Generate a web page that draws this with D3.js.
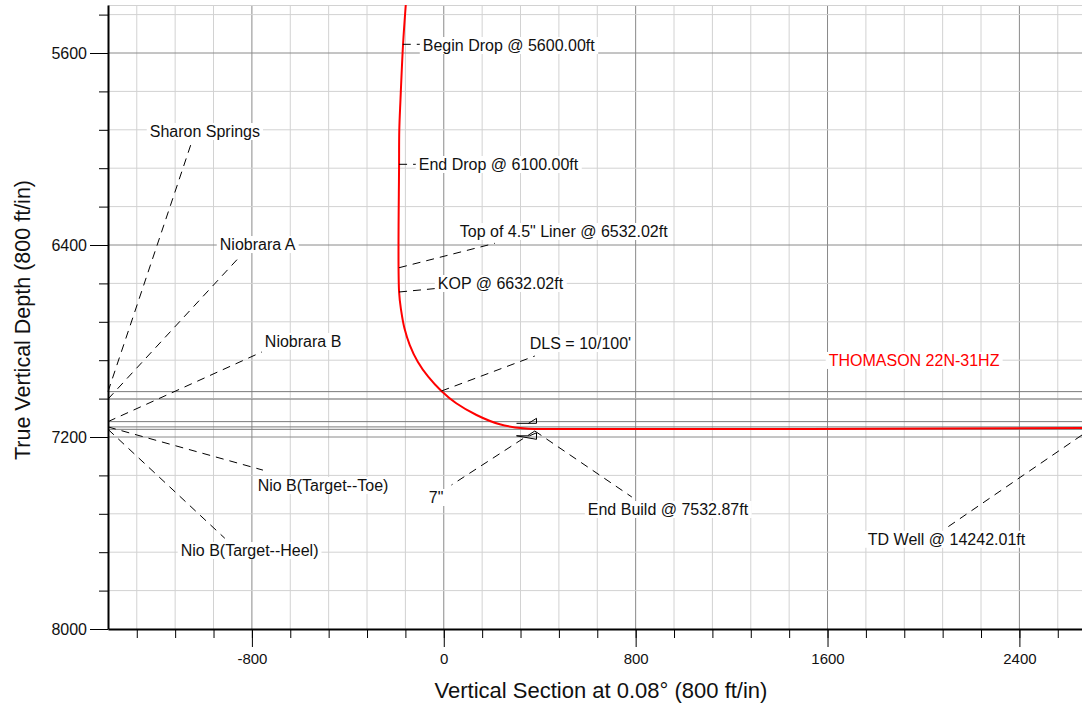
<html>
<head>
<meta charset="utf-8">
<script src="https://d3js.org/d3.v7.min.js"></script>

<style>
    body { margin: 0; background: #fff; }
    svg { font-family: "Liberation Sans", Arial, sans-serif; }

    .grid-minor { stroke: #d2d2d2; stroke-width: 1px; }
    .grid-major { stroke: #8a8a8a; stroke-width: 1px; }
    .formation { stroke: #7a7a7a; stroke-width: 1px; }

    .well {
        fill: none;
        stroke: #ff0000;
        stroke-width: 2px;
    }

    .leader {
        fill: none;
        stroke: black;
        stroke-width: 1px;
        stroke-dasharray: 8,6;
    }

    .label text { font-size: 16px; fill: #111; }
    .label rect { fill: white; }

    .axis path, .axis line { stroke: black; }
    .axis path { stroke-width: 2px; }
    .axis text { fill: #111; }

    .casing { fill: none; stroke: black; stroke-width: 1px; }
</style>
</head>
<body>
<svg width=1082 height=707></svg>

<script>

    // axis ticks (ft)
    let xLabels = [-800, 0, 800, 1600, 2400];
    let yLabels = [5600, 6400, 7200, 8000];
    let gridStep = 160;

    let wellVS  = [-158.5, -169.7, -180.6, -185.5, -186.4, -186.4, -177, -164, -141.8, -108.5, -65, -10,
                   52, 136.4, 233.5, 330.7, 400.3, 2661];
    let wellTVD = [5400, 5562.5, 5795.8, 5920.8, 6062.5, 6594.6, 6677.9, 6747.1, 6816.7, 6886.3, 6948.8, 7008.3,
                   7059.6, 7108.3, 7147.1, 7163.8, 7166.7, 7162.5];
    let wellName = 'THOMASON 22N-31HZ';
    let wellNamePos = [1605, 6904];

    // formation tops
    let formNames = ['Sharon Springs', 'Niobrara A', 'Niobrara B', 'Nio B(Target--Toe)', 'Nio B(Target--Heel)'];
    let formTVD = [7011, 7042, 7136, 7158, 7168];
    let formLeadVS  = [-1052, -851, -759, -754, -913];
    let formLeadTVD = [5974, 6449, 6846, 7338, 7622];
    let formTextVS  = [-1226, -934, -746, -776, -1097];
    let formTextTVD = [5950, 6421, 6825, 7425, 7696];

    // well annotations
    let annoText = ['Begin Drop @ 5600.00ft', 'End Drop @ 6100.00ft', 'Top of 4.5" Liner @ 6532.02ft',
                    'KOP @ 6632.02ft', "DLS = 10/100'", '7"', 'End Build @ 7532.87ft', 'TD Well @ 14242.01ft'];
    let annoFromVS  = [-171, -186.4, -186.4, -186.4, -9.6, 379.5, 379.5, 2661];
    let annoFromTVD = [5563.75, 6063.75, 6494.6, 6595.8, 7008.3, 7175, 7175, 7191.7];
    let annoToVS    = [-91.7, -104.3, 212.7, -23.8, 379.5, 32.1, 784, 2103];
    let annoToTVD   = [5563.75, 6063.75, 6392.9, 6580.4, 6862.5, 7400, 7450, 7573.75];
    let annoTextVS  = [-87.6, -104.3, 66.7, -25, 358.6, -62.6, 600.5, 1768];
    let annoTextTVD = [5591.7, 6087.5, 6366.7, 6583.3, 6833.3, 7475, 7525, 7649];

    // 7" casing shoe
    let casingVS = 386.6, casingTVD = 7168;

    let svg = d3.select('svg');

    let x = d3.scaleLinear().domain([-1400, 2661]).range([108, 1082]);
    let y = d3.scaleLinear().domain([5400, 8000]).range([5, 629]);

    let xGrid = d3.range(-1280, 2661, gridStep);
    let yGrid = d3.range(5440, 8000, gridStep);

    let grid = svg.append('g');

    grid.selectAll('.vx')
        .data(xGrid)
        .enter()
        .append('line')
        .attr('class', d => d % 800 === 0 ? 'grid-major' : 'grid-minor')
        .attr('x1', d => x(d)).attr('x2', d => x(d))
        .attr('y1', y(5400)).attr('y2', y(8000));

    grid.selectAll('.hy')
        .data(yGrid)
        .enter()
        .append('line')
        .attr('class', d => d % 800 === 0 ? 'grid-major' : 'grid-minor')
        .attr('x1', x(-1400)).attr('x2', x(2661))
        .attr('y1', d => y(d)).attr('y2', d => y(d));

    grid.append('line')
        .attr('class', 'grid-minor')
        .attr('x1', x(-1400)).attr('x2', x(2661))
        .attr('y1', y(5400) + 0.5).attr('y2', y(5400) + 0.5);

    // formation lines
    svg.selectAll('.formation')
        .data(formTVD)
        .enter()
        .append('line')
        .attr('class', 'formation')
        .attr('x1', x(-1400)).attr('x2', x(2661))
        .attr('y1', d => y(d)).attr('y2', d => y(d));

    // well path
    let wellData = wellVS.map((v, i) => [v, wellTVD[i]]);
    let wellLine = d3.line()
        .curve(d3.curveCatmullRom.alpha(0.5))
        .x(d => x(d[0]))
        .y(d => y(d[1]));

    svg.append('path')
        .attr('class', 'well')
        .attr('d', wellLine(wellData));

    // leaders
    let leaders = [];
    formNames.forEach((n, i) => leaders.push([x(-1400), y(formTVD[i]), x(formLeadVS[i]), y(formLeadTVD[i])]));
    annoText.forEach((n, i) => leaders.push([x(annoFromVS[i]), y(annoFromTVD[i]), x(annoToVS[i]), y(annoToTVD[i])]));

    svg.selectAll('.leader')
        .data(leaders)
        .enter()
        .append('line')
        .attr('class', 'leader')
        .attr('x1', d => d[0]).attr('y1', d => d[1])
        .attr('x2', d => d[2]).attr('y2', d => d[3]);

    // casing shoe symbol
    let cx = x(casingVS), cy = y(casingTVD);
    svg.append('path')
        .attr('class', 'casing')
        .attr('d', 'M' + (cx - 20) + ',' + (cy - 6) + 'H' + cx + 'V' + (cy - 11) + 'L' + (cx - 8) + ',' + (cy - 6)
            + 'M' + (cx - 20) + ',' + (cy + 6.5) + 'H' + (cx - 7) + 'L' + cx + ',' + (cy + 3.5) + 'V' + (cy + 10) + 'Z');

    // labels with white background
    let labels = [];
    formNames.forEach((n, i) => labels.push({t: n, vs: formTextVS[i], tvd: formTextTVD[i], c: '#111'}));
    annoText.forEach((n, i) => labels.push({t: n, vs: annoTextVS[i], tvd: annoTextTVD[i], c: '#111'}));
    labels.push({t: wellName, vs: wellNamePos[0], tvd: wellNamePos[1], c: '#ff0000'});

    let lab = svg.selectAll('.label')
        .data(labels)
        .enter()
        .append('g')
        .classed('label', true);

    lab.append('rect');
    lab.append('text')
        .attr('x', d => x(d.vs))
        .attr('y', d => y(d.tvd))
        .style('fill', d => d.c)
        .text(d => d.t);

    lab.each(function() {
        let g = d3.select(this);
        let b = g.select('text').node().getBBox();
        g.select('rect')
            .attr('x', b.x - 3).attr('y', b.y)
            .attr('width', b.width + 6).attr('height', b.height);
    });

    // axes
    let plain = d => String(d);

    let xAxisMinor = svg.append('g').attr('class', 'axis')
        .attr('transform', 'translate(0,' + y(8000) + ')')
        .call(d3.axisBottom(x).tickValues(xGrid).tickSize(9).tickSizeOuter(0).tickFormat(''));
    xAxisMinor.selectAll('path').remove();

    let xAxis = svg.append('g').attr('class', 'axis')
        .attr('transform', 'translate(0,' + y(8000) + ')')
        .call(d3.axisBottom(x).tickValues(xLabels).tickSize(18).tickSizeOuter(0).tickPadding(6).tickFormat(plain));
    xAxis.selectAll('text').style('font-size', '15px');

    let yAxisMinor = svg.append('g').attr('class', 'axis')
        .attr('transform', 'translate(' + x(-1400) + ',0)')
        .call(d3.axisLeft(y).tickValues(yGrid).tickSize(9).tickSizeOuter(0).tickFormat(''));
    yAxisMinor.selectAll('path').remove();

    let yAxis = svg.append('g').attr('class', 'axis')
        .attr('transform', 'translate(' + x(-1400) + ',0)')
        .call(d3.axisLeft(y).tickValues(yLabels).tickSize(18).tickSizeOuter(0).tickPadding(3).tickFormat(plain));
    yAxis.selectAll('text').style('font-size', '16px');

    svg.selectAll('.axis text').style('font-family', '"Liberation Sans", Arial, sans-serif');

    // axis titles
    svg.append('text')
        .attr('x', 601)
        .attr('y', 698)
        .attr('text-anchor', 'middle')
        .style('font-size', '22px')
        .style('fill', '#111')
        .text('Vertical Section at 0.08\u00b0 (800 ft/in)');

    svg.append('text')
        .attr('transform', 'translate(30,320) rotate(-90)')
        .attr('text-anchor', 'middle')
        .style('font-size', '21.5px')
        .style('fill', '#111')
        .text('True Vertical Depth (800 ft/in)');

</script>
</body>
</html>
